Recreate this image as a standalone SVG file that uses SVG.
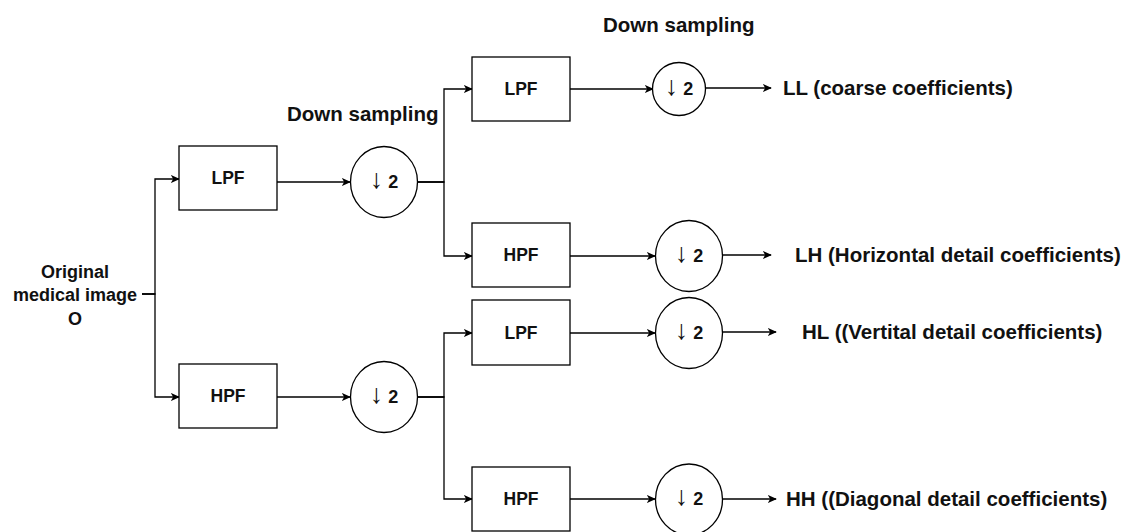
<svg xmlns="http://www.w3.org/2000/svg" width="1129" height="532" viewBox="0 0 1129 532">
<defs>
<style>
.box{fill:#fff;stroke:#000;stroke-width:1.3}
.ds{fill:#fff;stroke:#000;stroke-width:1.3}
.edge{fill:none;stroke:#000;stroke-width:1.3}
text{font-family:"Liberation Sans",Arial,Helvetica,sans-serif;font-weight:bold;fill:#111}
.lbl{font-size:17.5px;text-anchor:middle}
.sym{font-size:18px;text-anchor:middle}
.ar{font-size:27px}
.big{font-size:20.5px}
.side{font-size:18px;text-anchor:middle}
</style>
<marker id="arr" viewBox="0 0 10 10" refX="9" refY="5" markerWidth="9" markerHeight="9" markerUnits="userSpaceOnUse" orient="auto">
<path d="M0,0.5 L10,5 L0,9.5 L2.5,5 z" fill="#000"/>
</marker>
</defs>
<rect width="1129" height="532" fill="#fff"/>

<g id="connectors">
<path class="edge" d="M142,294 H155 V179 H179" marker-end="url(#arr)"/>
<path class="edge" d="M142,294 H155 V397 H179" marker-end="url(#arr)"/>
<path class="edge" d="M277,182 H350" marker-end="url(#arr)"/>
<path class="edge" d="M277,397 H350" marker-end="url(#arr)"/>
<path class="edge" d="M417,182 H444 V89 H472" marker-end="url(#arr)"/>
<path class="edge" d="M417,182 H444 V256 H472" marker-end="url(#arr)"/>
<path class="edge" d="M417,397 H444 V333 H472" marker-end="url(#arr)"/>
<path class="edge" d="M417,397 H444 V499 H472" marker-end="url(#arr)"/>
<path class="edge" d="M570,89 H653" marker-end="url(#arr)"/>
<path class="edge" d="M570,256 H655" marker-end="url(#arr)"/>
<path class="edge" d="M570,333 H655" marker-end="url(#arr)"/>
<path class="edge" d="M570,499 H655" marker-end="url(#arr)"/>
<path class="edge" d="M705,88 H771" marker-end="url(#arr)"/>
<path class="edge" d="M722,255 H771" marker-end="url(#arr)"/>
<path class="edge" d="M722,332 H776" marker-end="url(#arr)"/>
<path class="edge" d="M722,499 H776" marker-end="url(#arr)"/>
</g>

<g id="input">
<text class="side" x="75" y="278">Original</text>
<text class="side" x="75" y="301">medical image</text>
<text class="side" x="75" y="325">O</text>
</g>

<g id="lpf1"><rect class="box" x="179" y="146" width="98" height="64"/><text class="lbl" x="228" y="184">LPF</text></g>
<g id="hpf1"><rect class="box" x="179" y="364" width="98" height="64"/><text class="lbl" x="228" y="402">HPF</text></g>

<g id="ds1"><ellipse class="ds" cx="384" cy="182" rx="33.5" ry="35.5"/><text class="sym" x="384" y="188"><tspan class="ar">↓</tspan> 2</text></g>
<g id="ds2"><ellipse class="ds" cx="384" cy="397" rx="33.5" ry="35.5"/><text class="sym" x="384" y="403"><tspan class="ar">↓</tspan> 2</text></g>

<g id="label-ds1"><text class="big" x="287" y="121">Down sampling</text></g>
<g id="label-ds2"><text class="big" x="603" y="31.5">Down sampling</text></g>

<g id="lpf2"><rect class="box" x="472" y="57" width="98" height="64"/><text class="lbl" x="521" y="95">LPF</text></g>
<g id="hpf2"><rect class="box" x="472" y="223" width="98" height="64"/><text class="lbl" x="521" y="261">HPF</text></g>
<g id="lpf3"><rect class="box" x="472" y="300" width="98" height="65"/><text class="lbl" x="521" y="339">LPF</text></g>
<g id="hpf3"><rect class="box" x="472" y="467" width="98" height="64"/><text class="lbl" x="521" y="505">HPF</text></g>

<g id="ds3"><circle class="ds" cx="679" cy="89" r="26.5"/><text class="sym" x="679" y="95"><tspan class="ar">↓</tspan> 2</text></g>
<g id="ds4"><ellipse class="ds" cx="689" cy="256" rx="33.5" ry="35.5"/><text class="sym" x="689" y="262"><tspan class="ar">↓</tspan> 2</text></g>
<g id="ds5"><ellipse class="ds" cx="689" cy="333" rx="33.5" ry="35.5"/><text class="sym" x="689" y="339"><tspan class="ar">↓</tspan> 2</text></g>
<g id="ds6"><ellipse class="ds" cx="689" cy="499.5" rx="33.5" ry="35.5"/><text class="sym" x="689" y="505"><tspan class="ar">↓</tspan> 2</text></g>

<g id="out-ll"><text class="big" x="783" y="95">LL (coarse coefficients)</text></g>
<g id="out-lh"><text class="big" x="795" y="262">LH (Horizontal detail coefficients)</text></g>
<g id="out-hl"><text class="big" x="802" y="339">HL ((Vertital detail coefficients)</text></g>
<g id="out-hh"><text class="big" x="786" y="506">HH ((Diagonal detail coefficients)</text></g>
</svg>
